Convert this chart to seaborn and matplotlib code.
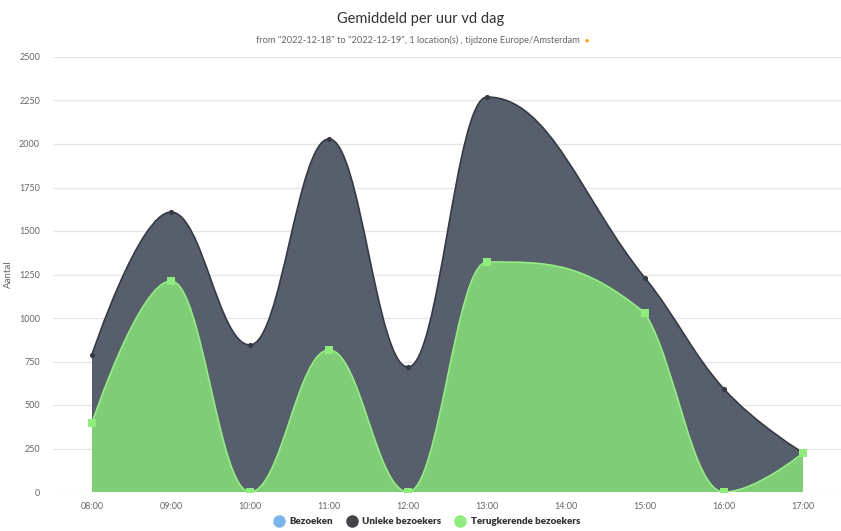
import numpy as np
import pandas as pd
import matplotlib
matplotlib.use("Agg")
import matplotlib.pyplot as plt
from matplotlib.path import Path
from matplotlib.patches import PathPatch
from matplotlib.lines import Line2D
import seaborn as sns

# ---- data ----
hours = [8, 9, 10, 11, 12, 13, 15, 16, 17]
unique_visitors = [790, 1609, 845, 2029, 718, 2270, 1230, 592, 225]
returning_visitors = [397, 1213, 0, 816, 0, 1322, 1029, 0, 224]
tick_hours = [8, 9, 10, 11, 12, 13, 14, 15, 16, 17]
tick_labels = ["08:00", "09:00", "10:00", "11:00", "12:00", "13:00", "14:00",
               "15:00", "16:00", "17:00"]
series_names = ["Bezoeken", "Unieke bezoekers", "Terugkerende bezoekers"]
series_colors = ["#7cb5ec", "#434348", "#90ed7d"]


def spline_path(xs, ys, close_to=None):
    """Highcharts-like spline through the data points as bezier path."""
    s = 1.5
    d = s + 1
    n = len(xs)
    lc = [None] * n
    rc = [None] * n
    for i in range(1, n - 1):
        px, py = xs[i], ys[i]
        lx, ly = xs[i - 1], ys[i - 1]
        nx, ny = xs[i + 1], ys[i + 1]
        lcx = (s * px + lx) / d
        lcy = (s * py + ly) / d
        rcx = (s * px + nx) / d
        rcy = (s * py + ny) / d
        corr = 0
        if rcx != lcx:
            corr = (rcy - lcy) * (rcx - px) / (rcx - lcx) + py - rcy
        lcy += corr
        rcy += corr
        if lcy > ly and lcy > py:
            lcy = max(ly, py); rcy = 2 * py - lcy
        elif lcy < ly and lcy < py:
            lcy = min(ly, py); rcy = 2 * py - lcy
        if rcy > ny and rcy > py:
            rcy = max(ny, py); lcy = 2 * py - rcy
        elif rcy < ny and rcy < py:
            rcy = min(ny, py); lcy = 2 * py - rcy
        lc[i] = (lcx, lcy)
        rc[i] = (rcx, rcy)
    verts = [(xs[0], ys[0])]
    codes = [Path.MOVETO]
    for i in range(1, n):
        c1 = rc[i - 1] if rc[i - 1] is not None else (xs[i - 1], ys[i - 1])
        c2 = lc[i] if lc[i] is not None else (xs[i], ys[i])
        verts += [c1, c2, (xs[i], ys[i])]
        codes += [Path.CURVE4] * 3
    if close_to is not None:
        verts += [(xs[-1], close_to), (xs[0], close_to), (xs[0], ys[0])]
        codes += [Path.LINETO, Path.LINETO, Path.CLOSEPOLY]
    return Path(verts, codes)


sns.set_style("white")
plt.rcParams["font.family"] = ["Lato", "DejaVu Sans"]

fig = plt.figure(figsize=(8.41, 5.31), dpi=100)
ax = fig.add_axes([52.5 / 841, 1 - 492 / 531, 790 / 841, 435 / 531])

ax.set_xlim(7.5, 17.5)
ax.set_ylim(0, 2500)
ax.set_yticks(np.arange(0, 2501, 250))
ax.yaxis.grid(True, color="#e6e6e6", linewidth=0.9)
ax.xaxis.grid(False)
ax.set_axisbelow(True)
for sp in ax.spines.values():
    sp.set_visible(False)

# unique visitors area
ax.add_patch(PathPatch(spline_path(hours, unique_visitors, close_to=0),
                       facecolor="#575f6d", edgecolor="none", zorder=2))
ax.add_patch(PathPatch(spline_path(hours, unique_visitors), facecolor="none",
                       edgecolor="#353a45", linewidth=1.2, zorder=3))
# returning visitors area
ax.add_patch(PathPatch(spline_path(hours, returning_visitors, close_to=0),
                       facecolor="#80cc77", edgecolor="none", zorder=4))
ax.add_patch(PathPatch(spline_path(hours, returning_visitors), facecolor="none",
                       edgecolor="#95ee85", linewidth=1.2, zorder=5))

df = pd.DataFrame({"uur": hours, "uniek": unique_visitors,
                   "terug": returning_visitors})
sns.scatterplot(data=df, x="uur", y="uniek", ax=ax, color="#353a45", s=14,
                marker="o", linewidth=0, zorder=6, legend=False)
sns.scatterplot(data=df, x="uur", y="terug", ax=ax, color="#90ed7d", s=28,
                marker="s", linewidth=0, zorder=7, legend=False)

ax.set_xticks(tick_hours)
ax.set_xticklabels(tick_labels)
ax.tick_params(axis="both", length=0, labelsize=6.5, labelcolor="#666666")
ax.tick_params(axis="x", pad=7)
ax.tick_params(axis="y", pad=9)
ax.set_xlabel("")
ax.set_ylabel("Aantal", fontsize=7, color="#666666")
ax.yaxis.set_label_coords((13 - 52.5) / 790, 0.5)

fig.text(0.5, 1 - 19 / 531, "Gemiddeld per uur vd dag", ha="center",
         va="center", fontsize=10.5, color="#333333")
fig.text(0.497, 1 - 40 / 531,
         'from "2022-12-18" to "2022-12-19", 1 location(s) , tijdzone Europe/Amsterdam',
         ha="center", va="center", fontsize=6.7, color="#666666")
fig.text(587 / 841, 1 - 40 / 531, "\u25cf", ha="center", va="center",
         fontsize=5, color="#f0a500")

handles = [Line2D([], [], marker="o", linestyle="none", markersize=8,
                  markerfacecolor=c, markeredgecolor=c) for c in series_colors]
leg = fig.legend(handles, series_names, loc="center", ncol=3,
                 bbox_to_anchor=(0.505, 1 - 522 / 531), frameon=False,
                 handletextpad=0.1, columnspacing=0.9,
                 prop={"weight": "heavy", "size": 7})
for t in leg.get_texts():
    t.set_color("#333333")

fig.savefig("out.png", dpi=100)
